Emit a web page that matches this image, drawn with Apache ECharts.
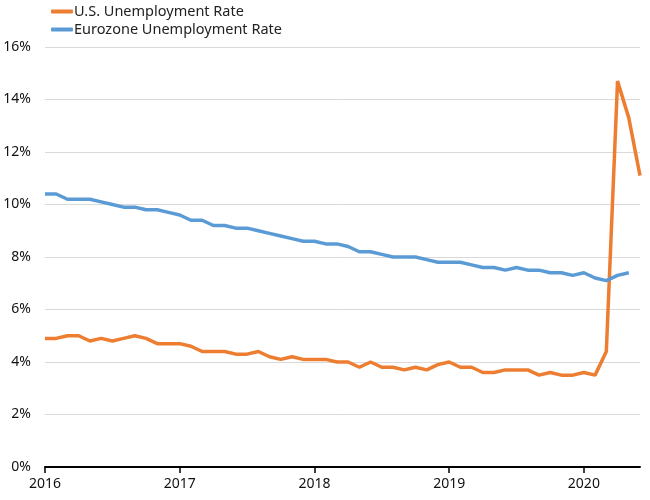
<!DOCTYPE html>
<html>
<head>
<meta charset="utf-8">
<script src="https://cdn.jsdelivr.net/npm/echarts@6/dist/echarts.min.js"></script>
<style>
  html, body { margin: 0; padding: 0; background: #fff; }
  #chart { width: 650px; height: 500px; }
</style>
</head>
<body>
<div id="chart"></div>
<script>
// monthly, Jan 2016 .. Jun 2020
const months = [];
for (let y = 2016; y <= 2020; y++) {
    for (let m = 1; m <= 12; m++) {
        if (y === 2020 && m > 6) break;
        months.push(y + '-' + String(m).padStart(2, '0'));
    }
}

const usRate = [
    4.9, 4.9, 5.0, 5.0, 4.8, 4.9, 4.8, 4.9, 5.0, 4.9, 4.7, 4.7,
    4.7, 4.6, 4.4, 4.4, 4.4, 4.3, 4.3, 4.4, 4.2, 4.1, 4.2, 4.1,
    4.1, 4.1, 4.0, 4.0, 3.8, 4.0, 3.8, 3.8, 3.7, 3.8, 3.7, 3.9,
    4.0, 3.8, 3.8, 3.6, 3.6, 3.7, 3.7, 3.7, 3.5, 3.6, 3.5, 3.5,
    3.6, 3.5, 4.4, 14.7, 13.3, 11.1,
];

const euroRate = [
    10.4, 10.4, 10.2, 10.2, 10.2, 10.1, 10.0, 9.9, 9.9, 9.8, 9.8, 9.7,
    9.6, 9.4, 9.4, 9.2, 9.2, 9.1, 9.1, 9.0, 8.9, 8.8, 8.7, 8.6,
    8.6, 8.5, 8.5, 8.4, 8.2, 8.2, 8.1, 8.0, 8.0, 8.0, 7.9, 7.8,
    7.8, 7.8, 7.7, 7.6, 7.6, 7.5, 7.6, 7.5, 7.5, 7.4, 7.4, 7.3,
    7.4, 7.2, 7.1, 7.3, 7.4, null,
];

const font = '"Noto Sans", Roboto, sans-serif';
const chart = echarts.init(document.getElementById('chart'));
chart.setOption({
    animation: false,
    textStyle: { fontFamily: font },
    legend: {
        orient: 'vertical',
        left: 46,
        top: -1,
        itemGap: 3,
        itemWidth: 22,
        itemHeight: 4,
        icon: 'roundRect',
        textStyle: { fontSize: 14.5, color: '#222', fontFamily: font, padding: [0, 0, 0, -4] },
        data: ['U.S. Unemployment Rate', 'Eurozone Unemployment Rate'],
    },
    grid: { left: 45, right: 10, top: 47, bottom: 33, containLabel: false },
    xAxis: {
        type: 'category',
        data: months,
        boundaryGap: false,
        axisLine: { lineStyle: { color: '#000', width: 2 } },
        axisTick: { interval: 11, length: 6, lineStyle: { color: '#000', width: 1.5 } },
        axisLabel: {
            interval: 11,
            color: '#111',
            fontSize: 14,
            margin: 10,
            fontFamily: font,
            formatter: v => v.slice(0, 4),
        },
        splitLine: { show: false },
    },
    yAxis: {
        type: 'value',
        min: 0,
        max: 16,
        interval: 2,
        axisLine: { show: false },
        axisTick: { show: false },
        axisLabel: { formatter: '{value}%', color: '#111', fontSize: 14, margin: 14, fontFamily: font },
        splitLine: { lineStyle: { color: '#d9d9d9', width: 1 } },
    },
    series: [
        {
            name: 'U.S. Unemployment Rate',
            type: 'line',
            data: usRate,
            showSymbol: false,
            symbol: 'none',
            lineStyle: { color: '#ED7D31', width: 3.5 },
            itemStyle: { color: '#ED7D31' },
        },
        {
            name: 'Eurozone Unemployment Rate',
            type: 'line',
            data: euroRate,
            showSymbol: false,
            symbol: 'none',
            lineStyle: { color: '#5B9BD5', width: 3.5 },
            itemStyle: { color: '#5B9BD5' },
        },
    ],
});
</script>
</body>
</html>
